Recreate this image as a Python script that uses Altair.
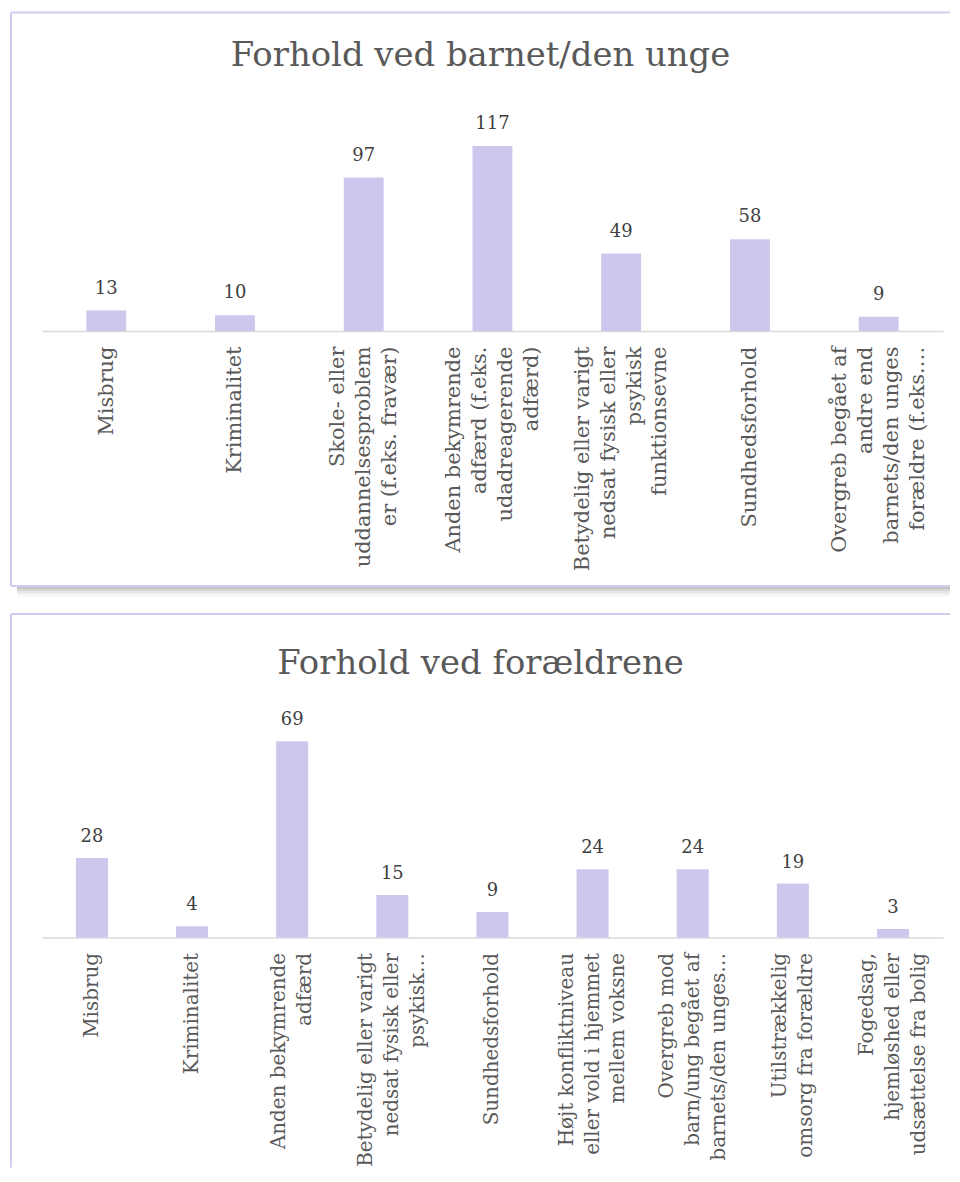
import altair as alt
import pandas as pd

# ---- data ----
title1 = "Forhold ved barnet/den unge"
cats1 = [
    "Misbrug",
    "Kriminalitet",
    "Skole- eller|uddannelsesproblem|er (f.eks. fravær)",
    "Anden bekymrende|adfærd (f.eks.|udadreagerende|adfærd)",
    "Betydelig eller varigt|nedsat fysisk eller|psykisk|funktionsevne",
    "Sundhedsforhold",
    "Overgreb begået af|andre end|barnets/den unges|forældre (f.eks.…",
]
vals1 = [13, 10, 97, 117, 49, 58, 9]

title2 = "Forhold ved forældrene"
cats2 = [
    "Misbrug",
    "Kriminalitet",
    "Anden bekymrende|adfærd",
    "Betydelig eller varigt|nedsat fysisk eller|psykisk…",
    "Sundhedsforhold",
    "Højt konfliktniveau|eller vold i hjemmet|mellem voksne",
    "Overgreb mod|barn/ung begået af|barnets/den unges…",
    "Utilstrækkelig|omsorg fra forældre",
    "Fogedsag,|hjemløshed eller|udsættelse fra bolig",
]
vals2 = [28, 4, 69, 15, 9, 24, 24, 19, 3]

FONT = "DejaVu Serif"
BAR = "#cfc6ee"
BORDER = "#d3cbf0"
ONE = pd.DataFrame({"k": [0]})
LH = 26


def frame(width, height, bottom_edge, shadow):
    parts = [
        alt.Chart(ONE).mark_rule(color=BORDER, strokeWidth=2).encode(
            x=alt.value(0), y=alt.value(0), y2=alt.value(height)),
        alt.Chart(ONE).mark_rule(color=BORDER, strokeWidth=2).encode(
            x=alt.value(0), x2=alt.value(width), y=alt.value(0)),
    ]
    if shadow:
        for i, op in enumerate([0.45, 0.32, 0.2, 0.1, 0.04]):
            parts.append(
                alt.Chart(ONE).mark_rule(color="#7f7f7f", strokeWidth=2, opacity=op).encode(
                    x=alt.value(6), x2=alt.value(width), y=alt.value(height + 2 + 2 * i)))
    if bottom_edge:
        parts.append(
            alt.Chart(ONE).mark_rule(color=BORDER, strokeWidth=2).encode(
                x=alt.value(0), x2=alt.value(width), y=alt.value(height)))
    return parts


def centre_offsets(size):
    # shift each multi-line label block so that it is centred on its bar
    conds = []
    for n in (4, 3, 2):
        conds.append({
            "test": f"length(split(datum.label, '|')) == {n}",
            "value": -((n - 1) * LH + size) / 2,
        })
    return {"condition": conds, "value": -size / 2}


def panel(cats, vals, title, width, height, x0, x1, base, top, pad, title_offset,
          bottom_edge, shadow, label_size, value_dy):
    df = pd.DataFrame({"cat": cats, "val": vals})
    x = alt.X(
        "cat:N",
        sort=cats,
        scale=alt.Scale(range=[x0, x1], paddingInner=pad, paddingOuter=pad / 2),
        axis=alt.Axis(
            title=None,
            orient="bottom",
            offset=base - height,
            labelAngle=270,
            labelAlign="right",
            labelBaseline="top",
            labelOffset=centre_offsets(label_size),
            labelExpr="split(datum.label, '|')",
            labelLineHeight=LH,
            labelFont=FONT,
            labelFontSize=label_size,
            labelColor="#595959",
            labelPadding=15,
            labelLimit=500,
            labelOverlap=False,
            ticks=False,
            domainColor="#d9d9d9",
            domainWidth=1.5,
            grid=False,
        ),
    )
    y = alt.Y(
        "val:Q",
        scale=alt.Scale(domain=[0, max(vals)], range=[base, top], nice=False, zero=True),
        axis=None,
    )
    bars = alt.Chart(df).mark_bar(color=BAR).encode(x=x, y=y)
    labels = alt.Chart(df).mark_text(
        baseline="bottom", dy=value_dy, font=FONT, fontSize=18, color="#404040"
    ).encode(x=x, y=y, text="val:Q")
    layers = frame(width, height, bottom_edge, shadow) + [bars, labels]
    return alt.layer(*layers).properties(
        width=width,
        height=height,
        title=alt.Title(
            title,
            font=FONT,
            fontSize=34,
            fontWeight="normal",
            color="#595959",
            anchor="middle",
            offset=title_offset,
        ),
    )


top_chart = panel(cats1, vals1, title1, 943, 576, 31, 936, 320, 134, 0.69, -62,
                  True, True, 21, -13)
bottom_chart = panel(cats2, vals2, title2, 943, 556, 31, 936, 325, 128, 0.68, -68,
                     False, False, 20, -12)

chart = (
    alt.vconcat(top_chart, bottom_chart, spacing=28, bounds="flush")
    .properties(padding={"left": 1, "top": 0, "right": 0, "bottom": 0})
    .configure_view(stroke="transparent")
)

chart.save("out.html", embed_options={"renderer": "svg", "actions": False})
